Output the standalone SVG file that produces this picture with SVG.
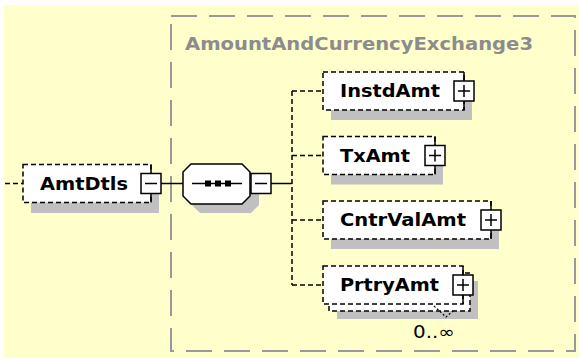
<svg xmlns="http://www.w3.org/2000/svg" width="579" height="358" viewBox="0 0 579 358">
<style>
.bg{fill:#FFFFCC}
.outer{fill:none;stroke:#999999;stroke-width:2;stroke-dasharray:26 12}
.title{font-family:"DejaVu Sans",Verdana,sans-serif;font-weight:bold;font-size:17px;fill:#8C8C8C}
.shadow{fill:#C0C0C0}
.box{fill:#FFFFFF;stroke:#000000;stroke-width:1.5;stroke-dasharray:5 3}
.solid{fill:#FFFFFF;stroke:#000000;stroke-width:1.5}
.ln{fill:none;stroke:#000000;stroke-width:1.5}
.dash{fill:none;stroke:#000000;stroke-width:1.5;stroke-dasharray:5 3}
.lbl{font-family:"DejaVu Sans",Verdana,sans-serif;font-weight:bold;font-size:17px;fill:#000000}
.occ{font-family:"DejaVu Sans",Verdana,sans-serif;font-size:17px;fill:#000000}
</style>
<rect class="bg" x="4" y="5" width="575" height="353"/>
<g id="complexType">
<rect class="outer" x="171" y="16" width="404" height="335"/>
<text class="title" x="185" y="50" textLength="348" lengthAdjust="spacingAndGlyphs">AmountAndCurrencyExchange3</text>
</g>
<g id="connectors">
<line class="dash" x1="5" y1="183.5" x2="23" y2="183.5"/>
<line class="ln" x1="161" y1="183.5" x2="183" y2="183.5"/>
<line class="ln" x1="271" y1="183.5" x2="292" y2="183.5"/>
<line class="dash" x1="292" y1="91" x2="292" y2="285"/>
<line class="dash" x1="292" y1="91" x2="323" y2="91"/>
<line class="dash" x1="292" y1="155.5" x2="323" y2="155.5"/>
<line class="dash" x1="292" y1="220" x2="323" y2="220"/>
<line class="dash" x1="292" y1="285" x2="323" y2="285"/>
</g>
<g id="AmtDtls">
<rect class="shadow" x="31" y="175" width="128" height="38"/>
<rect class="box" x="23" y="164.5" width="128" height="38"/>
<line class="ln" x1="151" y1="164.5" x2="151" y2="202.5"/>
<rect class="solid" x="141" y="173.5" width="20" height="20"/>
<line class="ln" x1="145" y1="183.5" x2="157" y2="183.5"/>
<text class="lbl" x="40" y="189.5" textLength="88" lengthAdjust="spacingAndGlyphs">AmtDtls</text>
</g>
<g id="sequence">
<polygon class="shadow" points="200,173 251,173 259,181 259,205 251,213 200,213 192,205 192,181"/>
<polygon class="solid" points="191,164 242,164 250,172 250,196 242,204 191,204 183,196 183,172"/>
<line class="ln" x1="192" y1="183.5" x2="242" y2="183.5"/>
<rect x="205" y="180.5" width="6" height="6" fill="#000"/>
<rect x="215" y="180.5" width="6" height="6" fill="#000"/>
<rect x="225" y="180.5" width="6" height="6" fill="#000"/>
<rect class="solid" x="251" y="173.5" width="20" height="20"/>
<line class="ln" x1="255" y1="183.5" x2="267" y2="183.5"/>
</g>
<g id="InstdAmt">
<rect class="shadow" x="331" y="82" width="141" height="38"/>
<rect class="box" x="323" y="72" width="141" height="38"/>
<line class="ln" x1="464" y1="72" x2="464" y2="110"/>
<rect class="solid" x="454" y="81" width="20" height="20"/>
<line class="ln" x1="458" y1="91" x2="470" y2="91"/>
<line class="ln" x1="464" y1="85" x2="464" y2="97"/>
<text class="lbl" x="340" y="97" textLength="100" lengthAdjust="spacingAndGlyphs">InstdAmt</text>
</g>
<g id="TxAmt">
<rect class="shadow" x="331" y="146.5" width="112" height="38"/>
<rect class="box" x="323" y="136.5" width="112" height="38"/>
<line class="ln" x1="435" y1="136.5" x2="435" y2="174.5"/>
<rect class="solid" x="425" y="145.5" width="20" height="20"/>
<line class="ln" x1="429" y1="155.5" x2="441" y2="155.5"/>
<line class="ln" x1="435" y1="149.5" x2="435" y2="161.5"/>
<text class="lbl" x="340" y="161.5" textLength="70" lengthAdjust="spacingAndGlyphs">TxAmt</text>
</g>
<g id="CntrValAmt">
<rect class="shadow" x="331" y="211" width="168" height="38"/>
<rect class="box" x="323" y="201" width="168" height="38"/>
<line class="ln" x1="491" y1="201" x2="491" y2="239"/>
<rect class="solid" x="481" y="210" width="20" height="20"/>
<line class="ln" x1="485" y1="220" x2="497" y2="220"/>
<line class="ln" x1="491" y1="214" x2="491" y2="226"/>
<text class="lbl" x="340" y="226" textLength="126" lengthAdjust="spacingAndGlyphs">CntrValAmt</text>
</g>
<g id="PrtryAmt">
<rect class="shadow" x="337" y="281" width="141" height="38"/>
<rect class="box" x="329" y="273" width="141" height="38"/>
<rect class="box" x="323" y="266" width="140" height="38"/>
<line class="ln" x1="463" y1="266" x2="463" y2="304"/>
<rect class="solid" x="453" y="275" width="20" height="20"/>
<line class="ln" x1="457" y1="285" x2="469" y2="285"/>
<line class="ln" x1="463" y1="279" x2="463" y2="291"/>
<text class="lbl" x="340" y="291" textLength="99" lengthAdjust="spacingAndGlyphs">PrtryAmt</text>
<polyline fill="none" stroke="#000" stroke-width="1.2" stroke-dasharray="2 2" points="434,306 446,317 453,311"/>
<text class="occ" x="413" y="338" textLength="42" lengthAdjust="spacingAndGlyphs">0..∞</text>
</g>
</svg>
